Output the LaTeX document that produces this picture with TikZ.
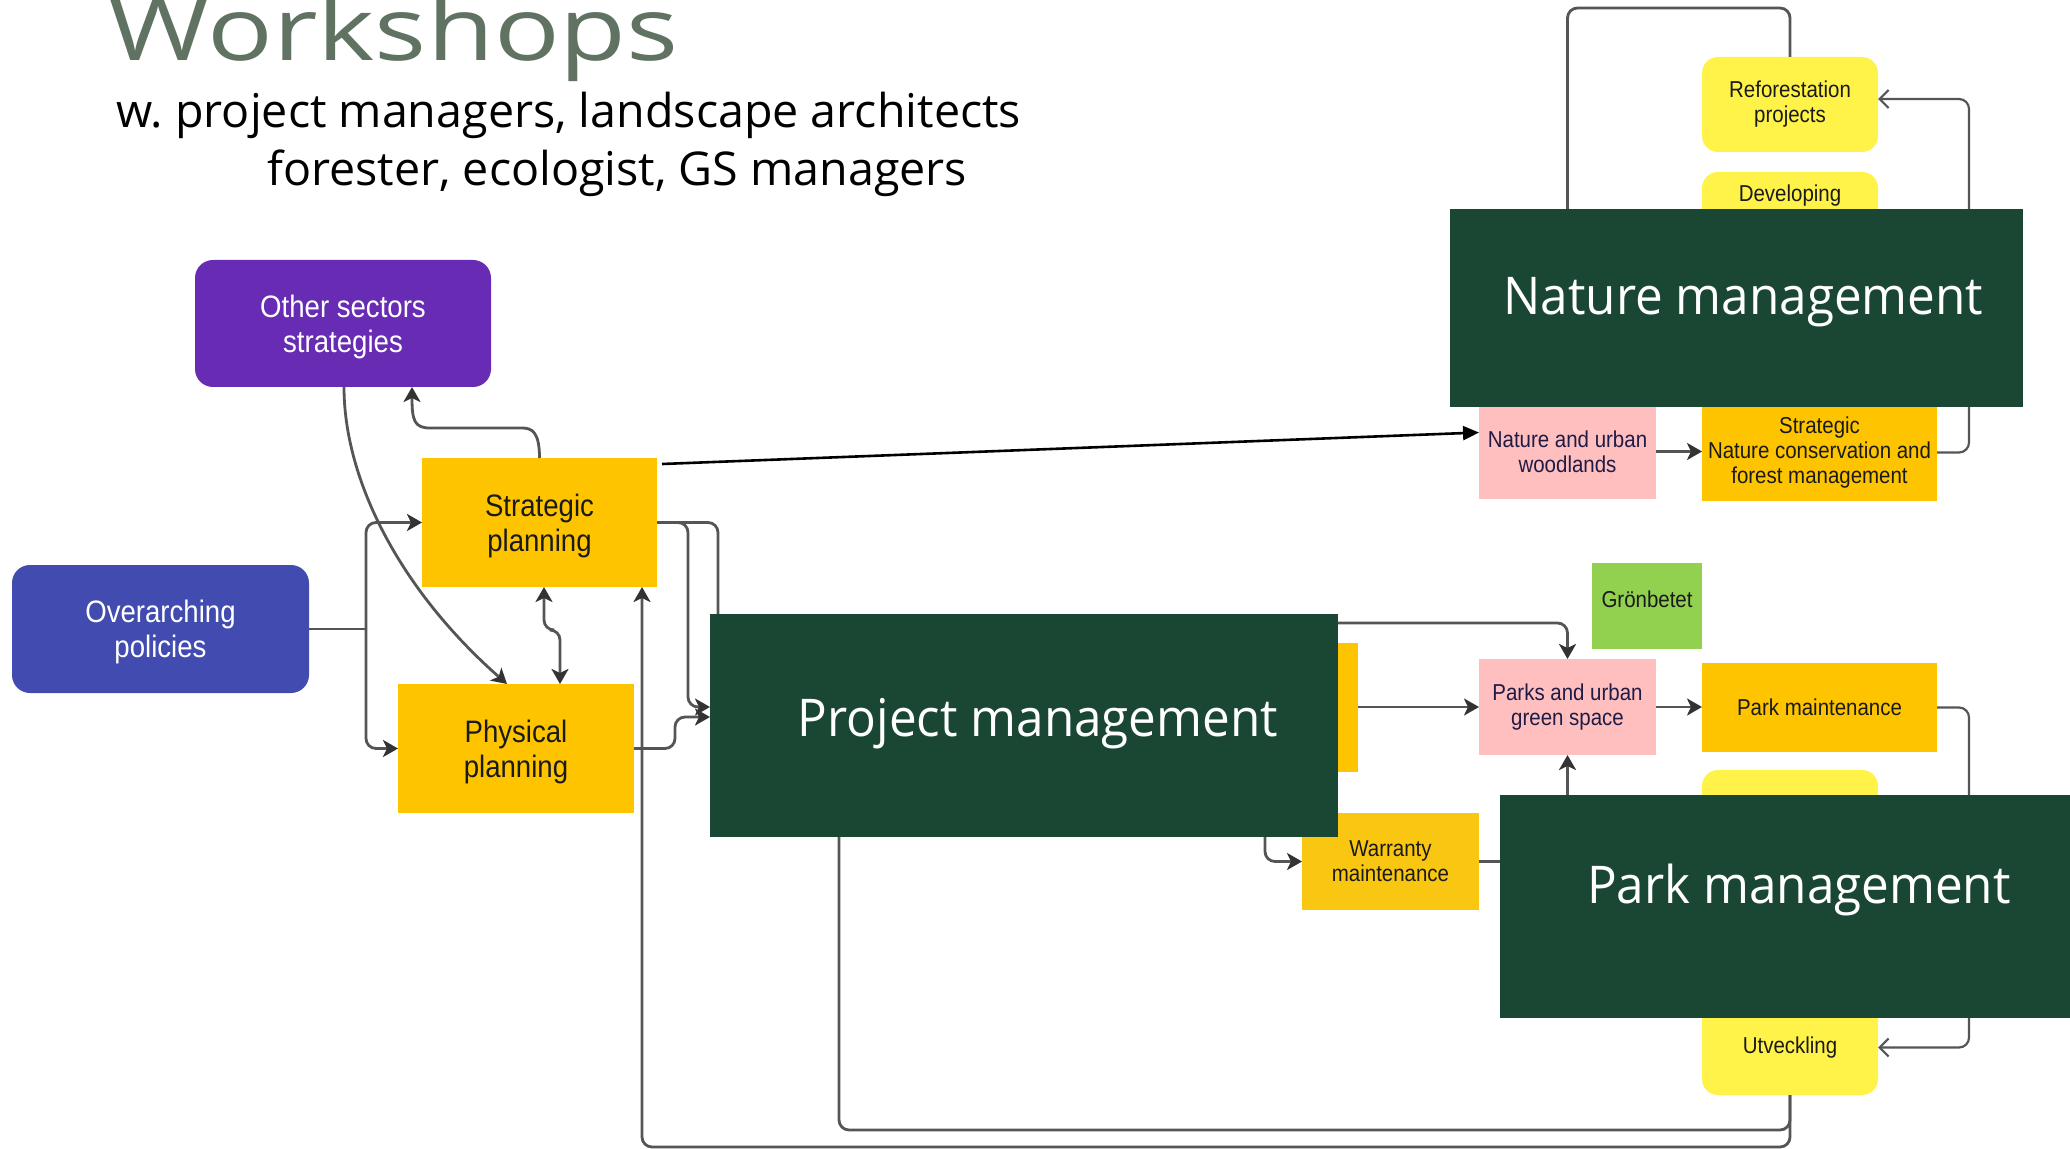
\documentclass[tikz,border=0pt]{standalone}
\usepackage{fontspec}
\setmainfont[FakeStretch=0.89]{Liberation Sans}
\newfontfamily\segoe{Open Sans}
\newfontfamily\segoeN[FakeStretch=0.95]{Open Sans}
\newfontfamily\titlef[FakeStretch=1.24]{Open Sans}
\usetikzlibrary{arrows.meta,calc}
\pgfdeclarelayer{fg}
\pgfsetlayers{main,fg}

\definecolor{purp}{RGB}{104,44,180}
\definecolor{bluebox}{RGB}{66,76,176}
\definecolor{amber}{RGB}{255,196,0}
\definecolor{amber2}{RGB}{249,199,18}
\definecolor{lemon}{RGB}{255,243,74}
\definecolor{pinkbox}{RGB}{255,191,191}
\definecolor{grn}{RGB}{146,208,80}
\definecolor{darkgreen}{RGB}{26,71,52}
\definecolor{titlegray}{RGB}{96,114,98}
\definecolor{linegray}{RGB}{85,85,85}
\definecolor{tipgray}{RGB}{51,51,51}
\definecolor{navytext}{RGB}{30,28,70}
\definecolor{boxtext}{RGB}{26,26,26}

\begin{document}
\begin{tikzpicture}[x=0.5pt,y=-0.5pt,
  box/.style={inner sep=0pt,outer sep=0pt,align=center},
  bigbox/.style={box,font=\fontsize{15.5}{17.5}\selectfont,text depth=0pt},
  smallbox/.style={box,font=\fontsize{11.5}{12.5}\selectfont,text=boxtext},
  roundbox/.style={rounded corners=9pt,fill=#1,text=white},
  lemonbox/.style={smallbox,fill=lemon,rounded corners=8pt,minimum width=88pt,minimum height=47.5pt},
  mgmt/.style={box,fill=darkgreen},
  mgmtlbl/.style={inner sep=0pt,anchor=base,text=white,font=\segoeN\fontsize{26}{30}\selectfont},
  conn/.style={draw=linegray,line width=1.4pt,rounded corners=5pt},
  arr/.style={conn,-{Stealth[length=7.5pt,width=8.5pt,inset=2pt,color=tipgray]}},
  dbl/.style={conn,{Stealth[length=7.5pt,width=8.5pt,inset=2pt,color=tipgray]}-{Stealth[length=7.5pt,width=8.5pt,inset=2pt,color=tipgray]}},
  barb/.style={conn,line width=1.1pt,-{Straight Barb[length=4.5pt,width=9pt]}},
  blk/.style={draw=black,line width=1.3pt,-{Triangle[length=8pt,width=7pt]}}
]
\useasboundingbox[fill=white] (0,0) rectangle (2070,1149);

% titles
\node[inner sep=0pt,anchor=base west,text=titlegray,font=\titlef\fontsize{44}{50}\selectfont] (title) at (108,61) {Workshops};
\node[inner sep=0pt,anchor=base west,font=\segoe\fontsize{23.3}{28}\selectfont] (sub1) at (116,128) {w.\ project managers, landscape architects};
\node[inner sep=0pt,anchor=base west,font=\segoe\fontsize{23.3}{28}\selectfont] (sub2) at (267,186) {forester, ecologist, GS managers};

% left boxes
\node[bigbox,roundbox=purp,minimum width=148pt,minimum height=63.5pt] (other) at (343,323.5) {Other sectors\\strategies};
\node[bigbox,roundbox=bluebox,minimum width=148.5pt,minimum height=64pt] (over) at (160.5,629) {Overarching\\policies};
\node[bigbox,fill=amber,text=boxtext,minimum width=117.5pt,minimum height=64.5pt] (strat) at (539.5,522.5) {Strategic\\planning};
\node[bigbox,fill=amber,text=boxtext,minimum width=118pt,minimum height=64.5pt] (phys) at (516,748.5) {Physical\\planning};

% right boxes
\node[lemonbox] (refor) at (1790,104.5) {Reforestation\\projects};
\node[lemonbox] (devel) at (1790,219.5) {};
\node[smallbox,anchor=base] (develt) at (1790,202) {Developing};
\node[smallbox,fill=pinkbox,text=navytext,minimum width=88.5pt,minimum height=47.5pt] (woods) at (1567.5,451.5) {Nature and urban\\woodlands};
\node[smallbox,fill=amber,minimum width=117.5pt,minimum height=48.5pt] (stratnat) at (1819.5,452.5) {Strategic\\Nature conservation and\\forest management};
\node[smallbox,fill=grn,minimum width=55pt,minimum height=43pt] (gron) at (1647,606) {};
\node[smallbox,anchor=base] (grontxt) at (1647,607) {Grönbetet};
\node[smallbox,fill=pinkbox,text=navytext,minimum width=88.5pt,minimum height=48pt] (parks) at (1567.5,707) {Parks and urban\\green space};
\node[smallbox,fill=amber,minimum width=117.5pt,minimum height=44.5pt] (parkm) at (1819.5,707.5) {Park maintenance};
\node[lemonbox] (yhid) at (1790,817.5) {};
\node[lemonbox] (utv) at (1790,1047.5) {Utveckling};
\node[smallbox,fill=amber,minimum width=117.5pt,minimum height=64.5pt] (ahid) at (1240.5,707) {};
\node[smallbox,fill=amber2,minimum width=88.5pt,minimum height=48.5pt] (warr) at (1390.5,861.5) {Warranty\\maintenance};

% overlay management boxes
\begin{pgfonlayer}{fg}
\node[mgmt,minimum width=314pt,minimum height=111.5pt] (projmg) at (1024,725.5) {};
\node[mgmtlbl] (projlbl) at (1038,736) {Project management};
\node[mgmt,minimum width=286.5pt,minimum height=99pt] (natmg) at (1736.5,308) {};
\node[mgmtlbl] (natlbl) at (1743.5,315) {Nature management};
\node[mgmt,minimum width=285pt,minimum height=111.5pt] (parkmg) at (1785,906.5) {};
\node[mgmtlbl] (parklbl) at (1799,903) {Park management};
\end{pgfonlayer}

% connectors
\draw[conn] (over.east) -- (366,629) coordinate (ob);
\draw[arr] (ob) |- (strat.west);
\draw[arr] (ob) |- (phys.west);
\draw[arr] ($(other.south)+(1,0)$) .. controls (344,480) and (400,590) .. ($(phys.north)+(-9,0)$);
\draw[arr] (strat.north) .. controls (539.5,432) and (532,428) .. (512,428) -- (440,428) .. controls (414,428) and (412,420) .. ($(other.south)+(69,0)$);
\draw[dbl] ($(strat.south)+(4.5,0)$) -- (544,630) -- (560,630) -- ($(phys.north)+(44,0)$);
\draw[arr] (strat.east) -- (688,522.5) -- (688,707) -- ($(projmg.west)+(0,-18.5)$);
\coordinate (hid1) at (718,650);
\draw[conn] (strat.east) -- (718,522.5) -- (hid1);
\draw[arr] (phys.east) -- (675,748.5) -- (675,717) -- ($(projmg.west)+(0,-8.5)$);
\draw[arr] (utv.south) -- (1790,1147) -- (642,1147) -- ($(strat.south)+(102.5,0)$);
\draw[conn] (utv.south) -- (1790,1130) -- (839,1130) -- ($(projmg.south)+(-185,0)$);
\draw[blk] ($(strat.north east)+(5,6)$) -- ($(woods.west)+(0,-19)$);
\draw[conn] (woods.north) -- (1567.5,8) -- (1790,8) -- (refor.north);
\draw[barb] (stratnat.east) -- (1969,452.5) -- (1969,99) -- ($(refor.east)+(0,-5.5)$);
\draw[arr] (woods.east) -- (woods.east -| stratnat.west);
\draw[arr] ($(projmg.east)+(-20,-102.5)$) -- (1567.5,623) -- (parks.north);
\draw[arr] (ahid.east) -- (parks.west);
\draw[arr] (parks.east) -- (parks.east -| parkm.west);
\draw[barb] (parkm.east) -- (1969,707.5) -- (1969,1047.5) -- (utv.east);
\draw[arr] (warr.east) -- (1567.5,861.5) -- (parks.south);
\draw[arr] ($(projmg.south)+(241,-20)$) -- (1265,861.5) -- (warr.west);
\end{tikzpicture}
\end{document}
